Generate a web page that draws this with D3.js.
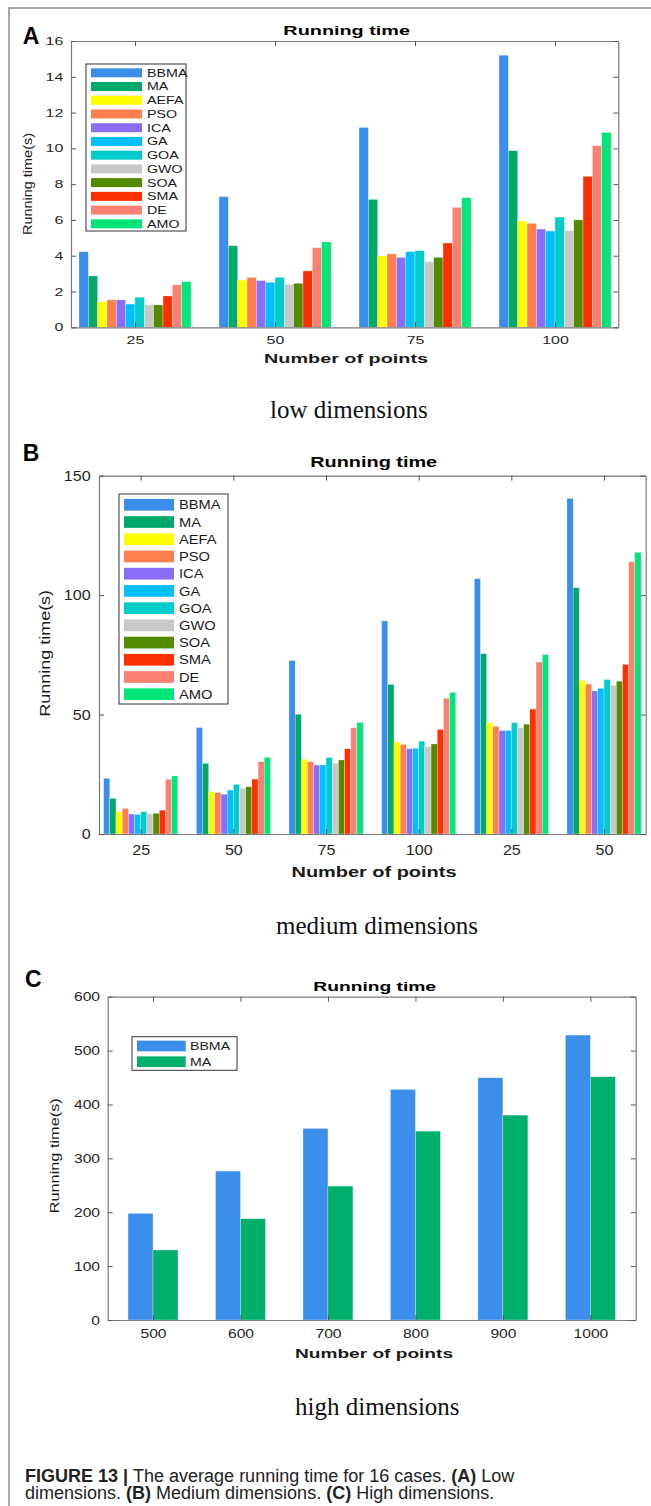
<!DOCTYPE html>
<html>
<head>
<meta charset="utf-8">
<script src="https://cdn.jsdelivr.net/npm/d3@7"></script>
<style>
  body { margin: 0; background: #fff; }
  svg text { font-family: 'Liberation Sans', Arial, sans-serif; }
</style>
</head>
<body>
<div id="fig"></div>
<script>
// algorithms and their bar colours
const algos = ['BBMA', 'MA', 'AEFA', 'PSO', 'ICA', 'GA', 'GOA', 'GWO', 'SOA', 'SMA', 'DE', 'AMO']
const algoColors = ['#3b8fea', '#00a96a', '#ffff00', '#ff7f4f', '#8b6dfc', '#00bfff',
  '#00cccc', '#c8c8c8', '#528a00', '#ff3000', '#fa8072', '#00e57a']

// (A) low dimensions: one row per number of points, one value per algorithm
const lowPoints = ['25', '50', '75', '100']
const lowTimes = [
  [4.23, 2.87, 1.43, 1.53, 1.53, 1.30, 1.68, 1.25, 1.25, 1.75, 2.37, 2.55],
  [7.30, 4.56, 2.64, 2.79, 2.61, 2.51, 2.79, 2.40, 2.46, 3.15, 4.45, 4.77],
  [11.17, 7.15, 3.99, 4.10, 3.91, 4.23, 4.28, 3.67, 3.91, 4.71, 6.70, 7.24],
  [15.21, 9.87, 5.94, 5.81, 5.49, 5.38, 6.16, 5.40, 6.00, 8.44, 10.15, 10.89]
]

// (B) medium dimensions
const medPoints = ['25', '50', '75', '100', '25', '50']
const medTimes = [
  [23.3, 14.9, 9.3, 10.7, 8.4, 8.2, 9.3, 8.4, 8.7, 10.0, 22.9, 24.3],
  [44.6, 29.6, 17.7, 17.3, 16.7, 18.4, 20.8, 19.1, 19.8, 23.0, 30.3, 32.1],
  [72.6, 50.1, 31.3, 30.3, 28.9, 28.9, 32.0, 29.6, 31.0, 35.7, 44.5, 46.7],
  [89.2, 62.6, 38.5, 37.5, 35.7, 35.9, 38.9, 36.6, 37.7, 43.8, 56.8, 59.3],
  [106.9, 75.5, 46.6, 45.1, 43.3, 43.3, 46.6, 44.5, 46.0, 52.3, 72.0, 75.2],
  [140.5, 103.1, 64.3, 62.8, 59.9, 61.0, 64.7, 62.2, 64.0, 71.0, 114.0, 117.9]
]

// (C) high dimensions
const highPoints = ['500', '600', '700', '800', '900', '1000']
const highAlgos = ['BBMA', 'MA']
const highColors = ['#3b8fea', '#00b06a']
const highBBMA = [197.9, 276.4, 355.6, 428.0, 449.6, 528.8]
const highMA = [129.9, 188.0, 248.6, 350.6, 380.3, 451.5]

const svg = d3.select('#fig').append('svg')
  .attr('width', 651)
  .attr('height', 1506)

// outer frame of the figure
svg.append('path')
  .attr('d', 'M9,1506V8H651')
  .attr('fill', 'none')
  .attr('stroke', '#8c8c8c')
  .attr('stroke-width', 1.5)

// widen text horizontally (the figure was stretched sideways)
function stretch (sel, k) {
  sel.each(function () {
    const w = this.getComputedTextLength()
    d3.select(this).attr('textLength', w * k).attr('lengthAdjust', 'spacingAndGlyphs')
  })
}
function fitWidth (sel, w) {
  sel.attr('textLength', w).attr('lengthAdjust', 'spacingAndGlyphs')
}

function drawPanel (p) {
  const x = d3.scaleLinear().domain(p.xlim).range([p.left, p.right])
  const y = d3.scaleLinear().domain([0, p.ymax]).range([p.bottom, p.top])
  const n = p.names.length
  const gw = Math.min(0.8, n / (n + 1.5))
  const bw = gw / n
  const g = svg.append('g')

  // bars
  p.rows.forEach(function (row, gi) {
    g.selectAll(null)
      .data(row)
      .enter().append('rect')
      .attr('x', (d, j) => x(gi + 1 - gw / 2 + j * bw))
      .attr('width', x(bw) - x(0))
      .attr('y', d => y(d))
      .attr('height', d => y(0) - y(d))
      .attr('fill', (d, j) => p.colors[j])
      .attr('stroke', '#fff')
      .attr('stroke-width', 0.3)
  })

  const cats = d3.range(1, p.cats.length + 1)

  const bottom = g.append('g')
    .attr('transform', 'translate(0,' + p.bottom + ')')
    .call(d3.axisBottom(x).tickValues(cats).tickFormat(d => p.cats[d - 1])
      .tickSizeInner(-5).tickSizeOuter(0))
  bottom.selectAll('text').attr('y', p.xTickY).attr('dy', 0)

  const top = g.append('g')
    .attr('transform', 'translate(0,' + p.top + ')')
    .call(d3.axisTop(x).tickValues(cats).tickFormat('').tickSizeInner(-5).tickSizeOuter(0))

  const left = g.append('g')
    .attr('transform', 'translate(' + p.left + ',0)')
    .call(d3.axisLeft(y).tickValues(p.yticks).tickFormat(d3.format('d'))
      .tickSizeInner(-5).tickSizeOuter(0).tickPadding(p.yPad))

  const right = g.append('g')
    .attr('transform', 'translate(' + p.right + ',0)')
    .call(d3.axisRight(y).tickValues(p.yticks).tickFormat('').tickSizeInner(-5).tickSizeOuter(0))

  ;[bottom, top, left, right].forEach(function (a) {
    a.select('.domain').attr('stroke', '#7a7a7a').attr('stroke-width', 1.2)
    a.selectAll('.tick line').attr('stroke', '#555')
  })
  const tickText = g.selectAll('.tick text')
    .attr('fill', '#262626')
    .attr('font-size', p.tickFont)
  stretch(tickText, p.tickStretch)

  // title
  g.append('text')
    .attr('x', p.title.x).attr('y', p.title.y)
    .attr('text-anchor', 'middle')
    .attr('font-weight', 'bold')
    .attr('font-size', p.title.size)
    .text('Running time')
    .call(fitWidth, p.title.w)

  // x label
  g.append('text')
    .attr('x', p.xlab.x).attr('y', p.xlab.y)
    .attr('text-anchor', 'middle')
    .attr('font-weight', 'bold')
    .attr('font-size', p.xlab.size)
    .attr('fill', '#1a1a1a')
    .text('Number of points')
    .call(fitWidth, p.xlab.w)

  // y label
  g.append('text')
    .attr('transform', 'translate(' + p.ylab.x + ',' + p.ylab.y + ') rotate(-90)')
    .attr('text-anchor', 'middle')
    .attr('font-size', p.ylab.size)
    .attr('fill', '#1a1a1a')
    .text('Running time(s)')
    .call(fitWidth, p.ylab.w)

  // panel letter
  g.append('text')
    .attr('x', p.letter.x).attr('y', p.letter.y)
    .attr('font-weight', 'bold')
    .attr('font-size', 23)
    .text(p.letter.t)

  // legend
  const L = p.legend
  g.append('rect')
    .attr('x', L.x).attr('y', L.y)
    .attr('width', L.w).attr('height', L.h)
    .attr('fill', '#fff')
    .attr('stroke', '#333')
    .attr('stroke-width', 1)
  const item = g.selectAll('.leg')
    .data(p.names)
    .enter().append('g')
    .attr('transform', (d, i) => 'translate(0,' + (L.row0 + i * L.step) + ')')
  item.append('rect')
    .attr('x', L.px).attr('y', -L.ph / 2)
    .attr('width', L.pw).attr('height', L.ph)
    .attr('fill', (d, i) => p.colors[i])
  const legText = item.append('text')
    .attr('x', L.tx)
    .attr('dy', '0.36em')
    .attr('font-size', L.size)
    .attr('fill', '#1a1a1a')
    .text(d => d)
  stretch(legText, L.k)

  // dimension caption under the panel
  svg.append('text')
    .attr('x', p.sub.x).attr('y', p.sub.y)
    .style('font-family', "'Liberation Serif', 'Times New Roman', serif")
    .attr('font-size', 25)
    .attr('fill', '#111')
    .text(p.sub.t)
}

drawPanel({
  names: algos,
  colors: algoColors,
  cats: lowPoints,
  rows: lowTimes,
  left: 71, right: 618.3, top: 41, bottom: 327.3,
  xlim: [0.543, 4.452],
  ymax: 16,
  yticks: d3.range(0, 17, 2),
  tickFont: 11, tickStretch: 1.45, yPad: 7.7, xTickY: 16.7,
  title: { x: 346.7, y: 35, size: 12, w: 126.7 },
  xlab: { x: 346, y: 362.7, size: 12.5, w: 164 },
  ylab: { x: 31.5, y: 184, size: 13, w: 102 },
  letter: { x: 22.7, y: 44.3, t: 'A' },
  legend: { x: 86, y: 64, w: 100, h: 167, px: 91, pw: 51, ph: 9, row0: 72.8, step: 13.73, tx: 147, size: 10.8, k: 1.32 },
  sub: { x: 270, y: 418.3, t: 'low dimensions' }
})

drawPanel({
  names: algos,
  colors: algoColors,
  cats: medPoints,
  rows: medTimes,
  left: 99, right: 645.7, top: 475.7, bottom: 834,
  xlim: [0.55, 6.45],
  ymax: 150,
  yticks: [0, 50, 100, 150],
  tickFont: 14, tickStretch: 1.15, yPad: 8.3, xTickY: 21,
  title: { x: 373.7, y: 467.3, size: 14, w: 127 },
  xlab: { x: 374, y: 876.7, size: 15, w: 165 },
  ylab: { x: 49.7, y: 653.3, size: 14.5, w: 126.7 },
  letter: { x: 22.7, y: 460.7, t: 'B' },
  legend: { x: 119, y: 494, w: 109, h: 210, px: 124, pw: 50, ph: 11.7, row0: 504.8, step: 17.22, tx: 179, size: 13, k: 1.13 },
  sub: { x: 276, y: 934, t: 'medium dimensions' }
})

drawPanel({
  names: highAlgos,
  colors: highColors,
  cats: highPoints,
  rows: highPoints.map((d, i) => [highBBMA[i], highMA[i]]),
  left: 107.7, right: 635.7, top: 996.7, bottom: 1320,
  xlim: [0.482, 6.518],
  ymax: 600,
  yticks: d3.range(0, 601, 100),
  tickFont: 12.6, tickStretch: 1.24, yPad: 7.7, xTickY: 18.3,
  title: { x: 374.7, y: 991, size: 13.5, w: 122.7 },
  xlab: { x: 374, y: 1357.7, size: 13, w: 158 },
  ylab: { x: 59, y: 1155.8, size: 13.5, w: 115 },
  letter: { x: 25, y: 987.3, t: 'C' },
  legend: { x: 132, y: 1036.7, w: 105, h: 33.6, px: 137, pw: 48.7, ph: 10.7, row0: 1046, step: 15.7, tx: 190, size: 11.6, k: 1.22 },
  sub: { x: 295, y: 1415, t: 'high dimensions' }
})

// figure caption
const caption = [
  [['FIGURE 13 | ', true], ['The average running time for 16 cases. ', false], ['(A)', true], [' Low', false]],
  [['dimensions. ', false], ['(B)', true], [' Medium dimensions. ', false], ['(C)', true], [' High dimensions.', false]]
]
caption.forEach(function (line, i) {
  const t = svg.append('text')
    .attr('x', 25)
    .attr('y', 1481.7 + i * 17.3)
    .attr('font-size', 18)
    .attr('fill', '#222')
  t.selectAll('tspan')
    .data(line)
    .enter().append('tspan')
    .attr('font-weight', d => d[1] ? 'bold' : 'normal')
    .text(d => d[0])
})
</script>
</body>
</html>
